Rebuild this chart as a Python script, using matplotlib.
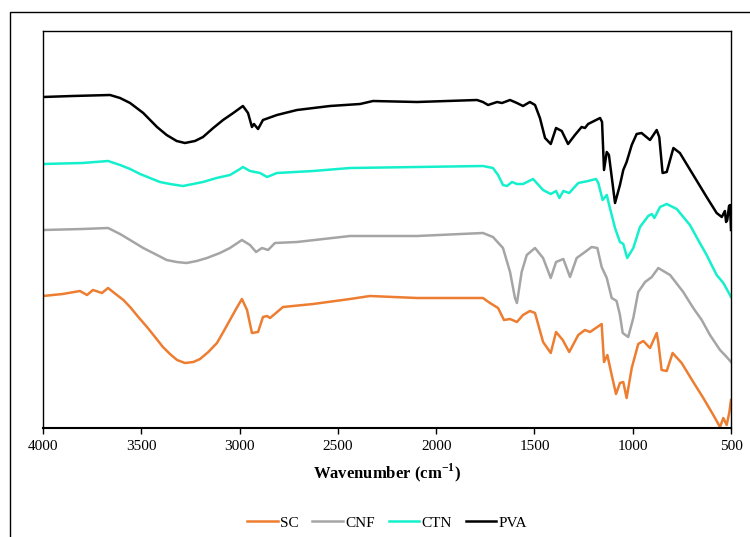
import matplotlib
matplotlib.use("Agg")
import matplotlib.pyplot as plt
from matplotlib.patches import Rectangle

plt.rcParams['font.family'] = ['Liberation Serif', 'DejaVu Serif']
plt.rcParams['mathtext.fontset'] = 'custom'
plt.rcParams['mathtext.rm'] = 'Liberation Serif'
plt.rcParams['mathtext.bf'] = 'Liberation Serif:bold'

# FTIR spectra, transmittance in arbitrary units (curves already offset)
sc_wn = [4000, 3900, 3812, 3776, 3746, 3700, 3669, 3624, 3591, 3557, 3515, 3471, 3430, 3390, 3354,
         3318, 3278, 3235, 3201, 3159, 3115, 3083, 3049, 3015, 2988, 2962, 2937, 2906, 2881, 2860,
         2845, 2779, 2626, 2438, 2337, 2097, 1762, 1726, 1685, 1655, 1624, 1589, 1558, 1523, 1497,
         1456, 1417, 1390, 1356, 1323, 1277, 1243, 1217, 1158, 1146, 1129, 1107, 1085, 1065, 1048,
         1031, 1005, 972, 946, 912, 878, 870, 853, 827, 797, 751, 692, 641, 590, 556,
         539, 522, 509, 500]
sc_t = [132, 134, 137, 133, 138, 135, 140, 133, 128, 121, 111, 101, 91, 81, 74,
        68, 65, 66, 69, 76, 85, 96, 108, 120, 129, 118, 95, 96, 111, 112,
        110, 121, 124, 129, 132, 130, 130, 125, 120, 108, 109, 106, 113, 117, 115,
        86, 75, 96, 88, 76, 93, 98, 96, 104, 66, 73, 53, 34, 45, 46,
        30, 60, 84, 87, 80, 95, 86, 58, 57, 75, 65, 46, 30, 13, 1,
        10, 3, 15, 28]

cnf_wn = [4000, 3800, 3669, 3608, 3557, 3490, 3420, 3371, 3320, 3270, 3218, 3166, 3100, 3049, 2988,
          2947, 2916, 2886, 2855, 2820, 2708, 2438, 2097, 1762, 1711, 1660, 1624, 1599, 1589, 1565,
          1539, 1497, 1456, 1417, 1390, 1353, 1319, 1285, 1243, 1209, 1180, 1158, 1132, 1107, 1082,
          1065, 1051, 1023, 997, 972, 937, 903, 870, 810, 743, 692, 649, 607, 556, 522, 500]
cnf_t = [198, 199, 200, 194, 188, 180, 173, 168, 166, 165, 167, 170, 175, 180, 188,
         183, 176, 180, 178, 185, 186, 192, 192, 195, 191, 180, 156, 130, 125, 156,
         173, 180, 170, 150, 166, 169, 151, 170, 176, 181, 180, 161, 150, 130, 127,
         113, 95, 91, 110, 136, 146, 151, 160, 153, 136, 120, 108, 93, 78, 71, 66]

ctn_wn = [4000, 3800, 3669, 3608, 3557, 3506, 3456, 3405, 3354, 3288, 3186, 3117, 3049, 3006, 2983,
          2947, 2896, 2860, 2810, 2626, 2438, 2097, 1762, 1711, 1685, 1660, 1640, 1614, 1589, 1558,
          1507, 1456, 1417, 1390, 1373, 1353, 1323, 1277, 1227, 1187, 1175, 1153, 1132, 1116, 1090,
          1065, 1048, 1028, 997, 963, 921, 903, 890, 861, 827, 776, 709, 667, 624, 573,
          539, 505, 500]
ctn_t = [264, 265, 267, 263, 259, 254, 250, 246, 244, 242, 246, 250, 253, 258, 261,
         257, 255, 251, 255, 257, 260, 261, 262, 260, 253, 243, 242, 246, 244, 244,
         249, 238, 234, 237, 230, 237, 235, 245, 247, 249, 245, 228, 233, 220, 200,
         186, 184, 170, 180, 201, 212, 214, 210, 221, 224, 219, 203, 188, 173, 153,
         145, 133, 131]

pva_wn = [4000, 3850, 3659, 3608, 3557, 3490, 3420, 3371, 3320, 3278, 3227, 3186, 3134, 3084, 3032,
          2983, 2957, 2937, 2927, 2906, 2881, 2810, 2708, 2540, 2387, 2321, 2097, 1792, 1762, 1736,
          1690, 1665, 1624, 1589, 1558, 1523, 1497, 1472, 1446, 1417, 1390, 1361, 1329, 1294, 1260,
          1243, 1227, 1166, 1156, 1146, 1132, 1121, 1090, 1065, 1048, 1031, 1005, 980, 955, 912,
          878, 865, 848, 827, 793, 760, 692, 624, 573, 547, 531, 525, 519, 510, 505, 500]
pva_t = [331, 332, 333, 330, 325, 315, 301, 293, 287, 285, 287, 291, 300, 308, 315,
         322, 315, 301, 304, 299, 308, 313, 318, 322, 324, 327, 326, 328, 326, 323,
         326, 325, 328, 325, 322, 326, 323, 310, 290, 284, 300, 297, 284, 293, 301,
         300, 304, 310, 306, 258, 276, 273, 225, 243, 258, 266, 283, 294, 295, 288,
         298, 291, 255, 256, 280, 275, 253, 231, 215, 211, 217, 206, 208, 222, 223, 198]

series = [
    ("SC", sc_wn, sc_t, "#ED7D31"),
    ("CNF", cnf_wn, cnf_t, "#A5A5A5"),
    ("CTN", ctn_wn, ctn_t, "#14F0CC"),
    ("PVA", pva_wn, pva_t, "#000000"),
]

fig = plt.figure(figsize=(7.5, 5.37), dpi=100)
ax = fig.add_axes([43 / 750, 109 / 537, 688 / 750, 397 / 537])

for name, wn, t, col in series:
    ax.plot(wn, t, color=col, lw=1.8, label=name, solid_joinstyle='round')

ax.set_xlim(4000, 500)
ax.set_ylim(0, 397)
ax.set_xticks(range(4000, 499, -500))
ax.set_yticks([])
ax.tick_params(axis='x', direction='out', length=4, width=1, labelsize=11, pad=5)
for s in ['top', 'right', 'left']:
    ax.spines[s].set_linewidth(1.0)
ax.spines['bottom'].set_linewidth(1.5)

ax.set_xlabel(r'Wavenumber (cm$^{\mathbf{-1}}$)', fontsize=12, fontweight='bold', labelpad=6)

fig.legend(loc='lower center', bbox_to_anchor=(0.516, -0.012), ncol=4, frameon=False,
           fontsize=11, handlelength=2.0, columnspacing=0.9, handletextpad=0.15)

# chart area border
fig.patches.append(Rectangle((9.5 / 750, -0.1), 1.2, (525 / 537) + 0.1, transform=fig.transFigure,
                             fill=False, lw=1.0, edgecolor='black'))

fig.savefig("out.png", dpi=100)
